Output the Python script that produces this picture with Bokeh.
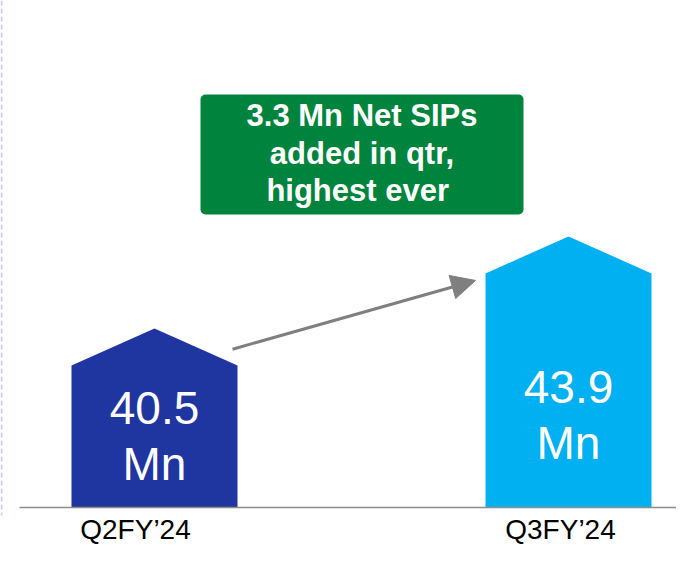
from bokeh.plotting import figure
from bokeh.models import Range1d, BoxAnnotation, Arrow, NormalHead, ColumnDataSource
from bokeh.core.properties import value
from bokeh.embed import file_html
from bokeh.resources import INLINE

# ---- data ----
categories = ["Q2FY\u201924", "Q3FY\u201924"]
sips_mn = [40.5, 43.9]
bar_labels = ["40.5", "43.9"]
unit_label = "Mn"
callout_lines = ["3.3 Mn Net SIPs", "added in qtr,", " highest ever"]

# ---- style ----
bar_colors = ["#1F35A0", "#00B0F0"]
green = "#00843D"
W, H = 676, 547
px_per_x = 414.0          # px per category step
px_per_y = 27.06          # px per Mn
base = 35.25              # axis floor value (baseline)
cx0 = 154.0               # px of first category center
base_px = 507.0           # px (from top) of baseline

x_start = -cx0 / px_per_x
x_end = (W - cx0) / px_per_x
y_top = base + base_px / px_per_y
y_bot = base - (H - base_px) / px_per_y

p = figure(width=W, height=H, output_backend="svg", toolbar_location=None,
           x_range=Range1d(x_start, x_end), y_range=Range1d(y_bot, y_top),
           min_border=0, outline_line_color=None)
p.axis.visible = False
p.grid.visible = False
p.background_fill_color = "white"
p.border_fill_color = "white"

bw = 166.0 / px_per_x
roof = 37.0 / px_per_y
xs_list, ys_list = [], []
for i, v in enumerate(sips_mn):
    xs_list.append([i - bw / 2, i - bw / 2, i, i + bw / 2, i + bw / 2])
    ys_list.append([base, v, v + roof, v, base])
p.patches(xs_list, ys_list, fill_color=bar_colors, line_color=None)

# baseline
p.segment(x0=[(19 - cx0) / px_per_x], y0=[base], x1=[x_end], y1=[base],
          line_color="#8C8C8C", line_width=1.5)

# left dashed guide
p.segment(x0=[x_start + 1.0 / px_per_x], y0=[y_top], x1=[x_start + 1.0 / px_per_x],
          y1=[base - 8 / px_per_y], line_color="#C9D3F0", line_width=2, line_dash="5 3")

# value labels inside bars
idx = list(range(len(sips_mn)))
num_off = [42.5, 113.5]
src = ColumnDataSource(dict(x=idx, y=sips_mn, t=bar_labels, off=num_off,
                            off2=[o + 56 for o in num_off], u=[unit_label] * 2))
p.text(x="x", y="y", text="t", y_offset="off", source=src, text_color="white",
       text_font=value("Liberation Sans"), text_font_size="46px",
       text_align="center", text_baseline="alphabetic")
p.text(x="x", y="y", text="u", y_offset="off2", source=src, text_color="white",
       text_font=value("Liberation Sans"), text_font_size="46px",
       text_align="center", text_baseline="alphabetic")

# category labels
cat_shift = [-19.0 / px_per_x, -8.0 / px_per_x]
p.text(x=[i + s for i, s in zip(idx, cat_shift)], y=[y_bot] * 2, text=categories,
       y_offset=[-18, -18], text_color="black", text_font=value("Liberation Sans"),
       text_font_size="28px", text_align="center", text_baseline="alphabetic")

# callout box
bl = (200 - cx0) / px_per_x
br = (523 - cx0) / px_per_x
bt = base + (base_px - 94) / px_per_y
bb = base + (base_px - 214) / px_per_y
p.add_layout(BoxAnnotation(left=bl, right=br, top=bt, bottom=bb, fill_color=green,
                           fill_alpha=1.0, line_color=None, border_radius=5,
                           level="underlay"))
bcx = (bl + br) / 2
bcy = (bt + bb) / 2
p.text(x=[bcx] * 3, y=[bcy] * 3, text=callout_lines, y_offset=[-39, -1.5, 36],
       text_color="white", text_font=value("Liberation Sans"), text_font_style="bold",
       text_font_size="31px", text_align="center", text_baseline="alphabetic")

# arrow between bars
ax0 = bw / 2 - 5.0 / px_per_x
ay0 = sips_mn[0] + 0.6
ax1 = 1 - bw / 2 - 10.0 / px_per_x
ay1 = sips_mn[1] - 0.26
p.add_layout(Arrow(x_start=ax0, y_start=ay0, x_end=ax1, y_end=ay1,
                   line_color="#7F7F7F", line_width=3,
                   end=NormalHead(size=24, fill_color="#7F7F7F", line_color="#7F7F7F")))

open("out.html", "w").write(file_html(p, INLINE))
